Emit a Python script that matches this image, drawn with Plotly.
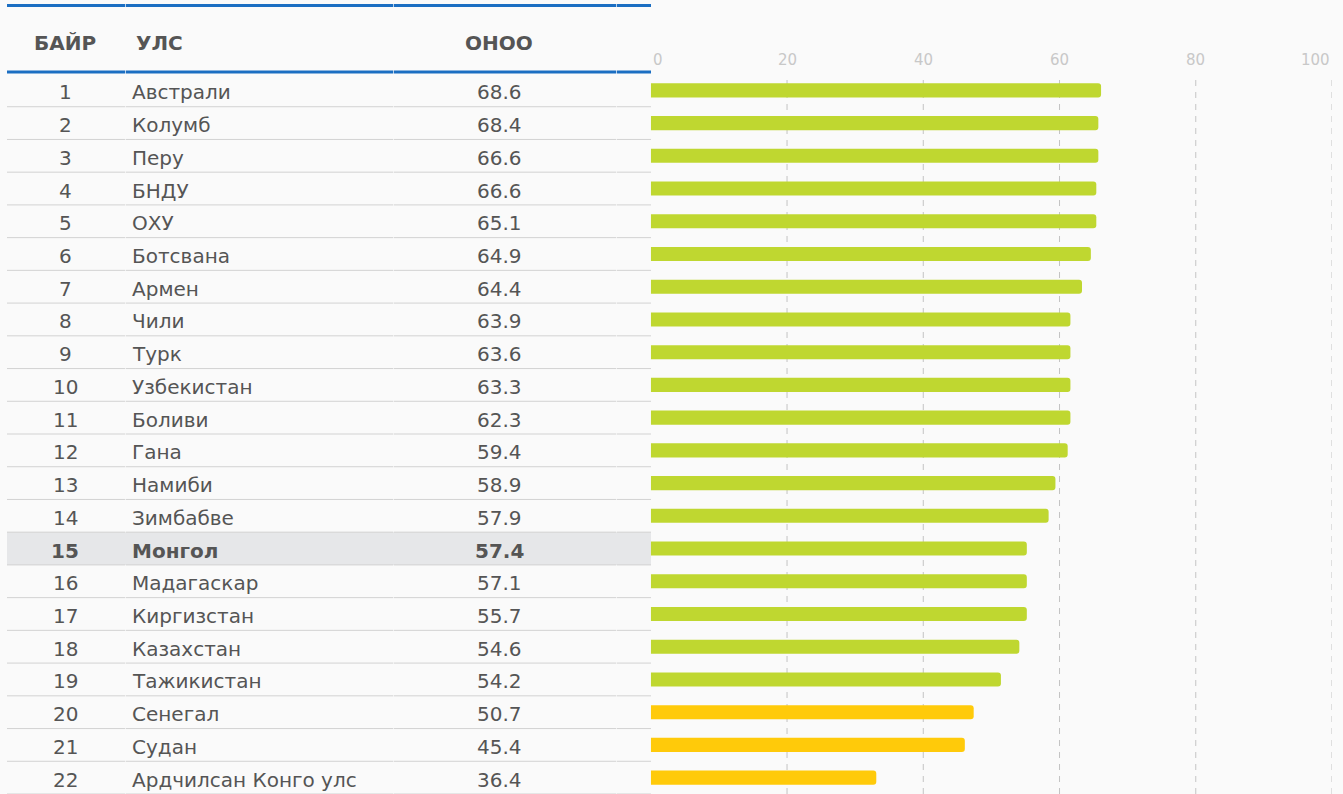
import plotly.graph_objects as go

# ---------------- data ----------------
ranks = list(range(1, 23))
countries = ["Австрали", "Колумб", "Перу", "БНДУ", "ОХУ", "Ботсвана", "Армен", "Чили",
             "Турк", "Узбекистан", "Боливи", "Гана", "Намиби", "Зимбабве", "Монгол",
             "Мадагаскар", "Киргизстан", "Казахстан", "Тажикистан", "Сенегал", "Судан",
             "Ардчилсан Конго улс"]
scores = ["68.6", "68.4", "66.6", "66.6", "65.1", "64.9", "64.4", "63.9", "63.6", "63.3",
          "62.3", "59.4", "58.9", "57.9", "57.4", "57.1", "55.7", "54.6", "54.2", "50.7",
          "45.4", "36.4"]
# bar lengths as drawn in the picture
bar_values = [66.1, 65.7, 65.7, 65.4, 65.4, 64.6, 63.3, 61.6, 61.6, 61.6, 61.6, 61.2,
              59.4, 58.4, 55.2, 55.2, 55.2, 54.1, 51.4, 47.4, 46.1, 33.1]
groups = ["a"] * 19 + ["b"] * 3
headers = ["БАЙР", "УЛС", "ОНОО"]
x_ticks = [0, 20, 40, 60, 80, 100]
highlight = "Монгол"

# ---------------- style ----------------
W, H = 1343, 794
BG = "#fafafa"
COLORS = {"a": "#bfd730", "b": "#ffca0a"}
FONT = "DejaVu Sans"
TXT = "#555555"
HDR = "#555555"
BLUE = "#1b6ec2"
SEP = "#d2d2d2"

tbl_left, tbl_right = 7 / W, 651 / W
col_rank, col_country, col_score = 65 / W, 130 / W, 499 / W
gaps = [125 / W, 393 / W, 616 / W]
x_dom = [650.8 / W, 1332 / W]

n = len(countries)
ypos = list(range(n))
plot_top = 74
plot_h = H - plot_top


def paper_y(px):
    return (H - px) / plot_h


fig = go.Figure()
fig.add_trace(go.Bar(
    x=bar_values, y=ypos, orientation="h",
    marker=dict(color=[COLORS[g] for g in groups], cornerradius=3, line=dict(width=0)),
    width=0.43, hoverinfo="x", showlegend=False,
))

shapes = []
annotations = []

# highlight row
for i, c in enumerate(countries):
    if c == highlight:
        shapes.append(dict(type="rect", xref="paper", yref="y", x0=tbl_left, x1=tbl_right,
                           y0=i - 0.5, y1=i + 0.5, fillcolor="#e6e7e9", line=dict(width=0),
                           layer="below"))

segs = [tbl_left] + gaps + [tbl_right]

# row separators (segments with small gaps at column boundaries)
for k in range(n):
    yb = k + 0.5
    for s in range(len(segs) - 1):
        x0 = segs[s] + (0.7 / W if s > 0 else 0)
        shapes.append(dict(type="line", xref="paper", yref="y", x0=x0, x1=segs[s + 1],
                           y0=yb, y1=yb, line=dict(color=SEP, width=1), layer="below"))

# blue header lines
for ypx in (5.5, 72):
    for s in range(len(segs) - 1):
        x0 = segs[s] + (0.7 / W if s > 0 else 0)
        shapes.append(dict(type="line", xref="paper", yref="paper", x0=x0, x1=segs[s + 1],
                           y0=paper_y(ypx), y1=paper_y(ypx),
                           line=dict(color=BLUE, width=3)))

# gridlines
for t in x_ticks[1:]:
    shapes.append(dict(type="line", xref="x", yref="paper", x0=t, x1=t, y0=0, y1=paper_y(80),
                       line=dict(color="#c4c4c4", width=1, dash="6px,6px"), layer="below"))

# header texts
hdr_font = dict(family=FONT, size=20, color=HDR, weight="bold")
annotations.append(dict(text=headers[0], xref="paper", yref="paper", x=col_rank, y=paper_y(43),
                        xanchor="center", yanchor="middle", showarrow=False, font=hdr_font))
annotations.append(dict(text=headers[1], xref="paper", yref="paper", x=134 / W, y=paper_y(43),
                        xanchor="left", yanchor="middle", showarrow=False, font=hdr_font))
annotations.append(dict(text=headers[2], xref="paper", yref="paper", x=col_score, y=paper_y(43),
                        xanchor="center", yanchor="middle", showarrow=False, font=hdr_font))

# row texts
for i in range(n):
    bold = countries[i] == highlight
    f = dict(family=FONT, size=20, color=TXT, weight="bold" if bold else "normal")
    annotations.append(dict(text=str(ranks[i]), xref="paper", yref="y", x=col_rank, y=i,
                            xanchor="center", yanchor="middle", showarrow=False, font=f,
                            yshift=-2))
    annotations.append(dict(text=countries[i], xref="paper", yref="y", x=col_country, y=i,
                            xanchor="left", yanchor="middle", showarrow=False, font=f,
                            yshift=-2))
    annotations.append(dict(text=scores[i], xref="paper", yref="y", x=col_score, y=i,
                            xanchor="center", yanchor="middle", showarrow=False, font=f,
                            yshift=-2))

# x tick labels
for t in x_ticks:
    anchor = "left" if t == x_ticks[0] else ("right" if t == x_ticks[-1] else "center")
    annotations.append(dict(text=str(t), xref="x", yref="paper", x=t, y=paper_y(60),
                            xanchor=anchor, yanchor="middle", showarrow=False,
                            font=dict(family=FONT, size=15, color="#c8c8c8")))

fig.update_layout(
    width=W, height=H,
    margin=dict(l=0, r=0, t=plot_top, b=0),
    paper_bgcolor=BG, plot_bgcolor=BG,
    xaxis=dict(domain=x_dom, range=[0, 100], showgrid=False, zeroline=False,
               showticklabels=False, showline=False, fixedrange=True),
    yaxis=dict(range=[n - 0.5, -0.5], showgrid=False, zeroline=False, showticklabels=False,
               showline=False, fixedrange=True),
    shapes=shapes, annotations=annotations,
)

fig.write_html("out.html", config={"displayModeBar": False},
               post_script="document.body.style.margin='0px';document.body.style.background='#fafafa';")
